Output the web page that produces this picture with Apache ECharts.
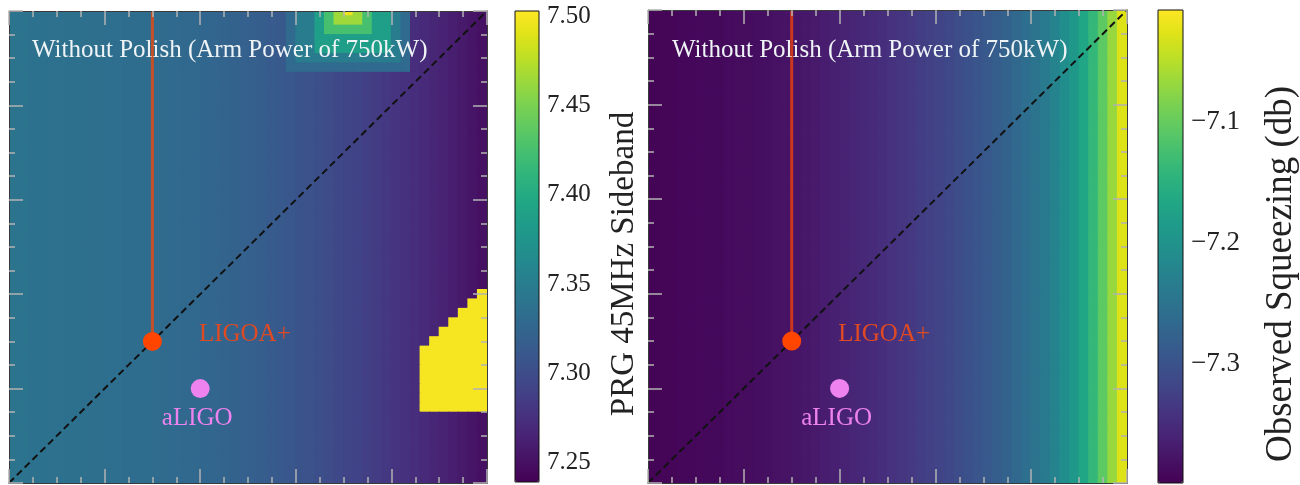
<!DOCTYPE html>
<html>
<head>
<meta charset="utf-8">
<title>PRG sideband and observed squeezing</title>
<script src="https://cdn.jsdelivr.net/npm/echarts@6/dist/echarts.min.js"></script>
<style>
  html, body { margin: 0; padding: 0; background: #ffffff; }
  #chart { width: 1300px; height: 485px; }
</style>
</head>
<body>
<div id="chart"></div>
<script>
// ---- grid size: 50 columns, 51 rows (the outer rows are half cut by the frame) ----
const COLS = 50;
const ROWS = 51;

// PRG 45MHz sideband, one value per column (left panel)
const sidebandColumns = [
  7.339, 7.339, 7.338, 7.338, 7.337, 7.337, 7.336, 7.336, 7.335, 7.335,
  7.334, 7.334, 7.333, 7.332, 7.332, 7.331, 7.330, 7.329, 7.328, 7.327,
  7.326, 7.325, 7.323, 7.322, 7.320, 7.319, 7.317, 7.314, 7.312, 7.310,
  7.307, 7.305, 7.302, 7.299, 7.296, 7.293, 7.291, 7.288, 7.285, 7.282,
  7.279, 7.276, 7.273, 7.270, 7.267, 7.264, 7.261, 7.258, 7.254, 7.251
];

// sideband peak near the top edge: nested levels (column span, last row from top, value)
const peakColStart = [29, 30, 32, 33, 34, 35];
const peakColEnd   = [41, 40, 39, 37, 36, 35];
const peakLastRow  = [6, 5, 4, 2, 1, 0];
const peakValues   = [7.329, 7.349, 7.386, 7.425, 7.464, 7.497];

// saturated corner at the right edge (rows counted from top)
const saturatedCols    = [43, 44, 45, 46, 47, 48, 49];
const saturatedTopRow  = [36, 35, 34, 33, 32, 31, 30];
const saturatedLastRow = 42;
const saturatedValue   = 7.50;

// Observed squeezing (db), one value per column (right panel)
const squeezingColumns = [
  -7.394, -7.393, -7.393, -7.392, -7.391, -7.390, -7.389, -7.389, -7.387, -7.386,
  -7.385, -7.384, -7.382, -7.380, -7.379, -7.376, -7.374, -7.371, -7.368, -7.364,
  -7.361, -7.357, -7.354, -7.350, -7.347, -7.342, -7.338, -7.334, -7.329, -7.324,
  -7.319, -7.314, -7.308, -7.302, -7.296, -7.290, -7.283, -7.275, -7.267, -7.258,
  -7.249, -7.238, -7.224, -7.209, -7.191, -7.168, -7.139, -7.106, -7.068, -7.028
];

// colour scales
const sidebandRange  = [7.239, 7.503];
const squeezingRange = [-7.398, -7.008];
const sidebandTicks  = [7.25, 7.30, 7.35, 7.40, 7.45, 7.50];
const squeezingTicks = [-7.3, -7.2, -7.1];

// design points and guide lines (grid units)
const ligoAPlus = [15, 15];
const aLigo     = [20, 10];
const diagonal  = [[0, 0], [50, 50]];
const ligoAPlusLine = [[15, 15], [15, 50]];

const titleText = 'Without Polish (Arm Power of 750kW)';

const viridis = [
  '#440154', '#471365', '#482475', '#463480', '#414487', '#3b528b', '#355f8d',
  '#2f6c8e', '#2a788e', '#25848e', '#21918c', '#1e9c89', '#22a884', '#2fb47c',
  '#44bf70', '#5ec962', '#7ad151', '#9bd93c', '#bddf26', '#dfe318', '#fde725'
];

// ---- build cell tables ----
function buildCells(columns, overrideFn) {
  const cells = [];
  for (let r = 0; r < ROWS; r++) {
    for (let c = 0; c < COLS; c++) {
      let v = columns[c];
      if (overrideFn) {
        const o = overrideFn(c, r);
        if (o !== null) v = o;
      }
      cells.push([c, (ROWS - 1) - r, v]);
    }
  }
  return cells;
}

function sidebandOverride(c, r) {
  let v = null;
  for (let k = 0; k < peakValues.length; k++) {
    if (c >= peakColStart[k] && c <= peakColEnd[k] && r <= peakLastRow[k]) v = peakValues[k];
  }
  const s = saturatedCols.indexOf(c);
  if (s >= 0 && r >= saturatedTopRow[s] && r <= saturatedLastRow) v = saturatedValue;
  return v;
}

const sidebandCells  = buildCells(sidebandColumns, sidebandOverride);
const squeezingCells = buildCells(squeezingColumns, null);

// one cell: column c spans [c, c+1], row value y spans [y-0.5, y+0.5]
function renderCell(params, api) {
  const x = api.value(0), y = api.value(1);
  const p0 = api.coord([x, y + 0.5]);
  const p1 = api.coord([x + 1, y - 0.5]);
  const cs = params.coordSys;
  const rect = echarts.graphic.clipRectByRect(
    { x: p0[0] - 0.5, y: p0[1] - 0.5, width: p1[0] - p0[0] + 1, height: p1[1] - p0[1] + 1 },
    { x: cs.x, y: cs.y, width: cs.width, height: cs.height }
  );
  return rect && { type: 'rect', shape: rect, style: { fill: api.visual('color') } };
}

// ---- axes ----
const FONT = '"Liberation Serif", "DejaVu Serif", serif';
const tickColor = '#b2b2b2';

function frameAxis(position, gridIndex) {
  return {
    type: 'value', gridIndex: gridIndex, position: position,
    min: 0, max: 50, interval: 10,
    axisLine: { show: true, onZero: false, lineStyle: { color: '#3a3a3a', width: 1 } },
    axisTick: { show: true, inside: true, length: 14, lineStyle: { color: tickColor, width: 1.5 } },
    minorTick: { show: true, splitNumber: 4, length: 6, lineStyle: { color: tickColor, width: 1.5 } },
    axisLabel: { show: false },
    splitLine: { show: false },
    minorSplitLine: { show: false },
    z: 6
  };
}

function colorbarAxis(gridIndex, range, ticks, digits, fontSize) {
  return {
    type: 'value', gridIndex: gridIndex, position: 'right',
    min: range[0], max: range[1],
    axisLine: { show: false },
    axisTick: { show: false },
    splitLine: { show: false },
    axisLabel: {
      show: true, customValues: ticks, margin: 8,
      color: '#222', fontSize: fontSize, fontFamily: FONT,
      formatter: function (v) { return v.toFixed(digits).replace('-', '\u2212'); }
    }
  };
}

function panelSeries(gridAxis, cells) {
  return [
    {
      type: 'custom', name: 'cells', xAxisIndex: gridAxis.x, yAxisIndex: gridAxis.y,
      data: cells, encode: { x: 0, y: 1 }, renderItem: renderCell, z: 1, silent: true
    },
    {
      type: 'line', xAxisIndex: gridAxis.x, yAxisIndex: gridAxis.y,
      data: diagonal, symbol: 'none', silent: true, z: 3,
      lineStyle: { color: '#111111', width: 2, type: [7, 4] }
    },
    {
      type: 'line', xAxisIndex: gridAxis.x, yAxisIndex: gridAxis.y,
      data: ligoAPlusLine, symbol: 'none', silent: true, z: 3,
      lineStyle: { color: '#ff4500', width: 3, opacity: 0.72 }
    },
    {
      type: 'scatter', name: 'LIGOA+', xAxisIndex: gridAxis.x, yAxisIndex: gridAxis.y,
      data: [ligoAPlus], symbolSize: 19, z: 5, silent: true,
      itemStyle: { color: '#ff4500', opacity: 1 },
      label: {
        show: true, formatter: '{a}', position: 'right', distance: 37, offset: [0, -7],
        color: '#e04a22', fontSize: 25, fontFamily: FONT
      }
    },
    {
      type: 'scatter', name: 'aLIGO', xAxisIndex: gridAxis.x, yAxisIndex: gridAxis.y,
      data: [aLigo], symbolSize: 19, z: 5, silent: true,
      itemStyle: { color: '#ee82ee', opacity: 1 },
      label: {
        show: true, formatter: '{a}', position: 'bottom', distance: 8, offset: [-3, 0],
        color: '#ee82ee', fontSize: 25, fontFamily: FONT
      }
    }
  ];
}

const leftSeries  = panelSeries({ x: 0, y: 0 }, sidebandCells);
const rightSeries = panelSeries({ x: 2, y: 2 }, squeezingCells);

const option = {
  animation: false,
  backgroundColor: '#ffffff',
  textStyle: { fontFamily: FONT },
  grid: [
    { left: 9,    top: 11, width: 478, height: 472 },
    { left: 648,  top: 10, width: 479, height: 473 },
    { left: 515,  top: 11, width: 24,  height: 471, show: true, borderColor: '#111', borderWidth: 1, backgroundColor: 'transparent', z: 10 },
    { left: 1158, top: 10, width: 25,  height: 473, show: true, borderColor: '#111', borderWidth: 1, backgroundColor: 'transparent', z: 10 }
  ],
  xAxis: [
    frameAxis('bottom', 0), frameAxis('top', 0),
    frameAxis('bottom', 1), frameAxis('top', 1),
    { type: 'value', gridIndex: 2, show: false, min: 0, max: 1 },
    { type: 'value', gridIndex: 3, show: false, min: 0, max: 1 }
  ],
  yAxis: [
    frameAxis('left', 0), frameAxis('right', 0),
    frameAxis('left', 1), frameAxis('right', 1),
    colorbarAxis(2, sidebandRange, sidebandTicks, 2, 25),
    colorbarAxis(3, squeezingRange, squeezingTicks, 1, 27)
  ],
  visualMap: [
    {
      type: 'continuous', seriesIndex: 0, dimension: 2,
      min: sidebandRange[0], max: sidebandRange[1],
      calculable: false, hoverLink: false, orient: 'vertical',
      left: 515, top: 11, itemWidth: 24, itemHeight: 471, padding: 0,
      inRange: { color: viridis }
    },
    {
      type: 'continuous', seriesIndex: 5, dimension: 2,
      min: squeezingRange[0], max: squeezingRange[1],
      calculable: false, hoverLink: false, orient: 'vertical',
      left: 1158, top: 10, itemWidth: 25, itemHeight: 473, padding: 0,
      inRange: { color: viridis }
    }
  ],
  graphic: [
    { type: 'text', x: 32, y: 50, z: 20, silent: true,
      style: { text: titleText, font: '25px ' + FONT, fill: '#eef3f5', align: 'left', verticalAlign: 'middle' } },
    { type: 'text', x: 672, y: 50, z: 20, silent: true,
      style: { text: titleText, font: '25px ' + FONT, fill: '#eef3f5', align: 'left', verticalAlign: 'middle' } },
    { type: 'text', x: 624, y: 264, rotation: Math.PI / 2, z: 20, silent: true,
      style: { text: 'PRG 45MHz Sideband', font: '33px ' + FONT, fill: '#222', align: 'center', verticalAlign: 'middle' } },
    { type: 'text', x: 1281, y: 274, rotation: Math.PI / 2, z: 20, silent: true,
      style: { text: 'Observed Squeezing (db)', font: '37px ' + FONT, fill: '#222', align: 'center', verticalAlign: 'middle' } }
  ],
  series: leftSeries.concat(rightSeries)
};

const chart = echarts.init(document.getElementById('chart'), null, { renderer: 'canvas' });
chart.setOption(option);
</script>
</body>
</html>
